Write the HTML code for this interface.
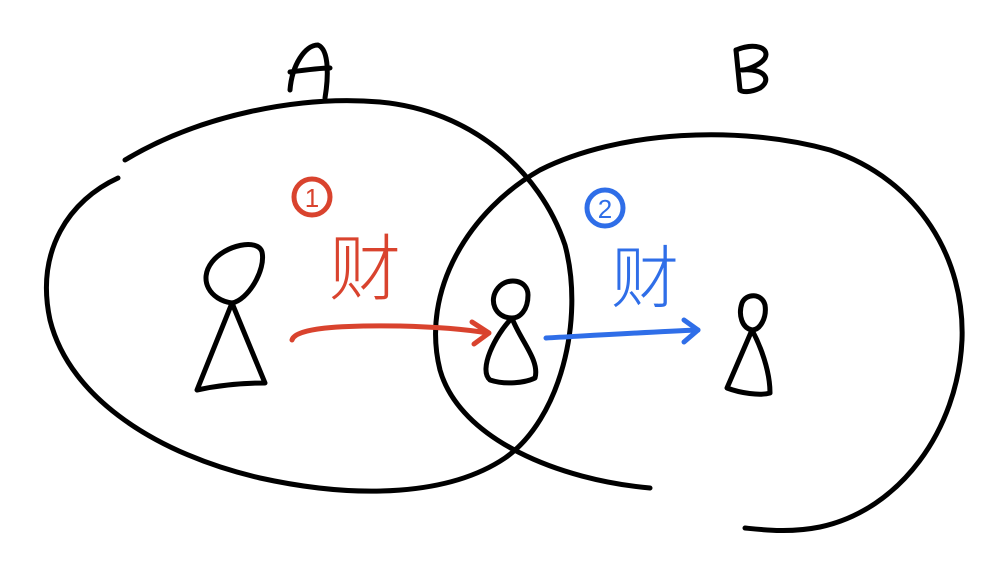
<!DOCTYPE html>
<html><head><meta charset="utf-8"><style>html,body{margin:0;padding:0;background:#fff;}svg{display:block}</style></head>
<body>
<svg width="1008" height="569" viewBox="0 0 1008 569" xmlns="http://www.w3.org/2000/svg">
<g fill="none" stroke="#000" stroke-width="5" stroke-linecap="round" stroke-linejoin="round">
<path d="M125,160 C200,115 300,95 380,102 C470,110 540,170 565,245 C585,320 560,420 505,458 C450,495 360,500 260,478 C160,455 70,400 50,320 C35,250 70,200 118,178"/>
<path d="M650,488 C560,480 460,440 440,370 C420,290 470,210 540,170 C620,130 740,125 830,150 C920,180 965,260 962,340 C958,430 900,510 820,527 C790,533 765,530 745,528"/>
<path d="M232,303 C210,300 198,280 212,262 C225,245 258,238 262,252 C266,270 248,300 232,303 Z"/>
<path d="M232,303 L197,390 C220,385 245,383 265,383 L232,303"/>
<path d="M512,318 C495,318 488,300 498,288 C508,276 528,280 528,295 C528,310 520,318 512,318 Z"/>
<path d="M512,318 C495,335 478,370 490,380 C505,385 525,383 535,378 C540,360 520,340 512,318"/>
<path d="M752,330 C742,328 738,315 742,303 C746,293 762,293 765,305 C767,318 760,330 752,330 Z"/>
<path d="M752,330 L727,388 C740,393 760,396 770,393 C770,370 760,345 752,330"/>
<path d="M290,90 C292,65 305,45 318,45 C330,50 328,80 325,98"/>
<path d="M290,72 C305,70 320,68 330,68"/>
<path d="M736,50 L740,90"/>
<path d="M736,50 C755,42 770,48 765,58 C760,66 745,70 742,70 C765,68 772,80 760,88 C750,93 742,92 740,90"/>
</g>
<g fill="none" stroke="#d9432e" stroke-width="5" stroke-linecap="round" stroke-linejoin="round">
<path d="M292,340 C295,328 340,325 400,326 C440,327 470,330 488,333"/>
<path d="M472,322 L489,333 L474,344"/>
<circle cx="312" cy="197" r="18"/>
</g>
<g fill="none" stroke="#2f6ee8" stroke-width="5" stroke-linecap="round" stroke-linejoin="round">
<path d="M546,338 C600,335 650,332 698,330"/>
<path d="M684,320 L698,330 L684,342"/>
<circle cx="605" cy="208" r="18"/>
</g>
<text x="312" y="207" font-family="Liberation Sans, sans-serif" font-size="26" fill="#d9432e" text-anchor="middle">1</text>
<text x="605" y="218" font-family="Liberation Sans, sans-serif" font-size="26" fill="#2f6ee8" text-anchor="middle">2</text>
<text x="365" y="294" font-family="Liberation Sans, 'Noto Sans CJK SC', sans-serif" font-size="72" font-weight="300" fill="#d9432e" text-anchor="middle">财</text>
<text x="645" y="302" font-family="Liberation Sans, 'Noto Sans CJK SC', sans-serif" font-size="68" font-weight="300" fill="#2f6ee8" text-anchor="middle">财</text>
</svg>
</body></html>
